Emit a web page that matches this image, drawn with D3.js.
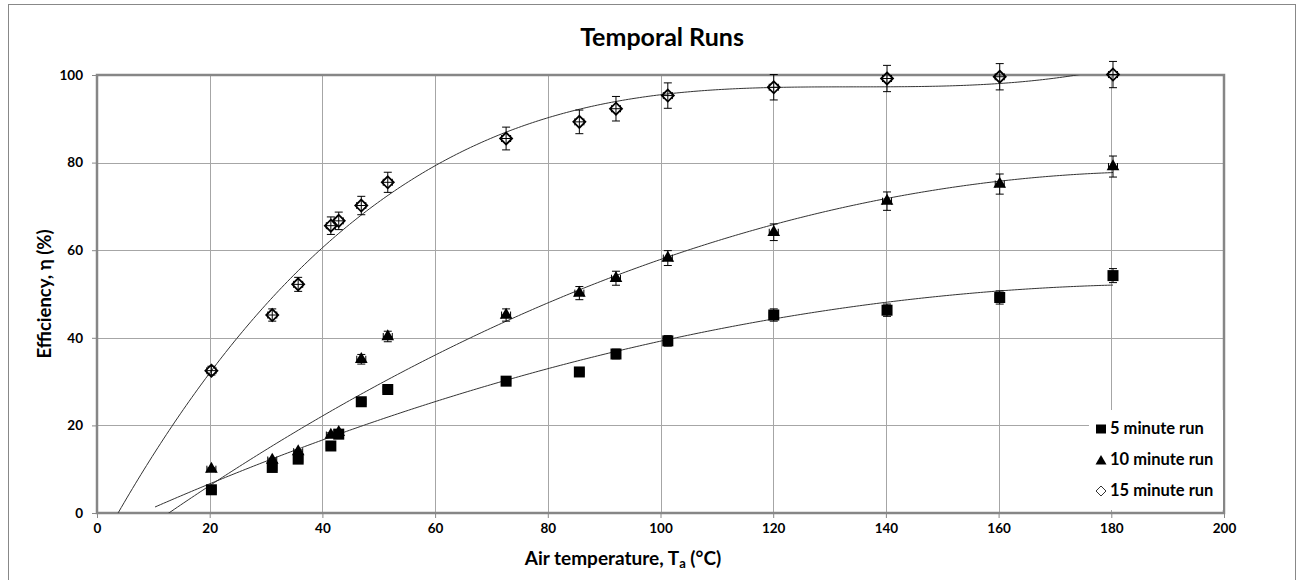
<!DOCTYPE html>
<html>
<head>
<meta charset="utf-8">
<script src="https://cdn.jsdelivr.net/npm/d3@7"></script>
<style>
    body { margin: 0; background: #fff; }
    text { font-family: Lato, Carlito, Calibri, sans-serif; font-weight: bold; fill: #000; }
</style>
</head>
<body>
<div id="chart"></div>
<script>
// Temperatures (deg C) shared by the three runs
var temps = [20.3, 31.1, 35.7, 41.5, 42.9, 46.9, 51.6, 72.6, 85.6, 92.1, 101.3, 120.1, 140.2, 160.2, 180.3];

// Efficiency (%) per run
var run5 = [5.3, 10.4, 12.3, 15.3, 18.0, 25.4, 28.2, 30.1, 32.2, 36.3, 39.3, 45.2, 46.3, 49.2, 54.2];
var run10 = [10.0, 12.1, 14.0, 17.8, 18.4, 35.1, 40.3, 45.2, 50.2, 53.6, 58.2, 64.1, 71.2, 75.1, 79.1];
var run15 = [32.5, 45.2, 52.2, 65.6, 66.7, 70.2, 75.5, 85.5, 89.3, 92.3, 95.3, 97.2, 99.2, 99.6, 100.1];

// Error bars
var err5 = [0.2, 0.3, 0.4, 0.5, 0.5, 0.8, 0.8, 0.9, 1.0, 1.1, 1.2, 1.4, 1.4, 1.5, 1.6];
var err10 = [0.3, 0.4, 0.4, 0.5, 0.6, 1.1, 1.2, 1.4, 1.5, 1.6, 1.7, 1.9, 2.1, 2.3, 2.4];
var err15 = [1.0, 1.4, 1.6, 2.0, 2.0, 2.1, 2.3, 2.6, 2.7, 2.8, 2.9, 2.9, 3.0, 3.0, 3.0];
var tempErr = 0.8;

var seriesNames = ['5 minute run', '10 minute run', '15 minute run'];
var xTicks = [0, 20, 40, 60, 80, 100, 120, 140, 160, 180, 200];
var yTicks = [0, 20, 40, 60, 80, 100];

// Polynomial trendline settings (order, backward forecast)
var trendOrder = [2, 2, 3];
var trendBack = [10, 10, 20];

var width = 1301,
    height = 580,
    margin = { left: 97, top: 75, right: 77, bottom: 67 };

var plotW = width - margin.left - margin.right,
    plotH = height - margin.top - margin.bottom;

var x = d3.scaleLinear().domain([0, 200]).range([0, plotW]);
var y = d3.scaleLinear().domain([0, 100]).range([plotH, 0]);

var series = [run5, run10, run15].map(function (vals, i) {
    return {
        name: seriesNames[i],
        shape: ['square', 'triangle', 'diamond'][i],
        points: vals.map(function (v, j) {
            return { x: temps[j], y: v, e: [err5, err10, err15][i][j] };
        }),
        order: trendOrder[i],
        back: trendBack[i]
    };
});

// least squares polynomial fit, x scaled for conditioning
function polyfit(xs, ys, order) {
    var n = order + 1, A = [], b = [], i, j, k;
    for (i = 0; i < n; i++) {
        A[i] = [];
        for (j = 0; j < n; j++) {
            A[i][j] = d3.sum(xs, function (v) { return Math.pow(v / 100, i + j); });
        }
        b[i] = d3.sum(xs, function (v, m) { return ys[m] * Math.pow(v / 100, i); });
    }
    for (i = 0; i < n; i++) {
        var p = i;
        for (k = i + 1; k < n; k++) if (Math.abs(A[k][i]) > Math.abs(A[p][i])) p = k;
        var t = A[i]; A[i] = A[p]; A[p] = t;
        t = b[i]; b[i] = b[p]; b[p] = t;
        for (k = i + 1; k < n; k++) {
            var f = A[k][i] / A[i][i];
            for (j = i; j < n; j++) A[k][j] -= f * A[i][j];
            b[k] -= f * b[i];
        }
    }
    var c = [];
    for (i = n - 1; i >= 0; i--) {
        var s = b[i];
        for (j = i + 1; j < n; j++) s -= A[i][j] * c[j];
        c[i] = s / A[i][i];
    }
    return function (v) {
        return d3.sum(c, function (cc, m) { return cc * Math.pow(v / 100, m); });
    };
}

var svg = d3.select('#chart').append('svg')
    .attr('width', width)
    .attr('height', height);

// outer chart border
svg.append('rect')
    .attr('x', 8.5).attr('y', 4.5)
    .attr('width', 1287).attr('height', 620)
    .attr('fill', 'none')
    .attr('stroke', '#888')
    .attr('stroke-width', 1);

svg.append('text')
    .attr('x', 662)
    .attr('y', 46)
    .attr('text-anchor', 'middle')
    .style('font-size', '25px')
    .text('Temporal Runs');

var g = svg.append('g')
    .attr('transform', 'translate(' + margin.left + ',' + margin.top + ')');

svg.append('defs').append('clipPath')
    .attr('id', 'plotClip')
    .append('rect')
    .attr('width', plotW)
    .attr('height', plotH);

// gridlines
g.append('g').selectAll('line').data(xTicks.slice(1, -1))
    .enter().append('line')
    .attr('x1', function (d) { return Math.round(x(d)) + 0.5; })
    .attr('x2', function (d) { return Math.round(x(d)) + 0.5; })
    .attr('y1', 0).attr('y2', plotH)
    .attr('stroke', '#a6a6a6');

g.append('g').selectAll('line').data(yTicks.slice(1, -1))
    .enter().append('line')
    .attr('y1', function (d) { return Math.round(y(d)) + 0.5; })
    .attr('y2', function (d) { return Math.round(y(d)) + 0.5; })
    .attr('x1', 0).attr('x2', plotW)
    .attr('stroke', '#a6a6a6');

// axes
var xAxis = g.append('g')
    .attr('transform', 'translate(0,' + plotH + ')')
    .call(d3.axisBottom(x).tickValues(xTicks).tickSize(5).tickPadding(5));

var yAxis = g.append('g')
    .call(d3.axisLeft(y).tickValues(yTicks).tickSize(5).tickPadding(9));

[xAxis, yAxis].forEach(function (ax) {
    ax.select('.domain').remove();
    ax.selectAll('line').attr('stroke', '#888');
    ax.selectAll('text')
        .style('font-family', 'Lato, sans-serif')
        .style('font-weight', 'bold')
        .style('font-size', '13.5px')
        .attr('fill', '#000');
});

// plot frame
g.append('rect')
    .attr('width', plotW)
    .attr('height', plotH)
    .attr('fill', 'none')
    .attr('stroke', '#868686')
    .attr('stroke-width', 2.5);

// trendlines
var line = d3.line()
    .x(function (d) { return x(d[0]); })
    .y(function (d) { return y(d[1]); });

series.forEach(function (s) {
    var fit = polyfit(temps, s.points.map(function (p) { return p.y; }), s.order);
    var x0 = temps[0] - s.back, x1 = temps[temps.length - 1];
    var pts = d3.range(x0, x1, 0.5).concat([x1]).map(function (v) { return [v, fit(v)]; });
    g.append('path')
        .attr('d', line(pts))
        .attr('clip-path', 'url(#plotClip)')
        .attr('fill', 'none')
        .attr('stroke', '#333')
        .attr('stroke-width', 1);
});

// markers and error bars
var sym = {
    square: d3.symbol().type(d3.symbolSquare).size(121),
    triangle: d3.symbol().type(d3.symbolTriangle).size(70)
};

series.forEach(function (s) {
    var sg = g.append('g');
    var pg = sg.selectAll('g').data(s.points).enter().append('g')
        .attr('transform', function (d) { return 'translate(' + x(d.x) + ',' + y(d.y) + ')'; });

    var bars = pg.append('g').attr('stroke', '#000').attr('stroke-width', 1);
    bars.append('path').attr('d', function (d) {
        var up = y(d.y + d.e) - y(d.y), dn = y(d.y - d.e) - y(d.y);
        var l = x(d.x - tempErr) - x(d.x), r = x(d.x + tempErr) - x(d.x);
        return 'M0,' + up + 'V' + dn +
            'M-4,' + up + 'H4M-4,' + dn + 'H4' +
            'M' + l + ',0H' + r +
            'M' + l + ',-3.5V3.5M' + r + ',-3.5V3.5';
    });

    if (s.shape === 'diamond') {
        pg.append('path')
            .attr('d', 'M0,-6L6,0L0,6L-6,0Z')
            .attr('fill', 'none')
            .attr('stroke', '#000')
            .attr('stroke-width', 1.8);
    } else {
        pg.append('path')
            .attr('d', sym[s.shape]())
            .attr('fill', '#000');
    }
});

// legend
var legend = svg.append('g')
    .attr('transform', 'translate(1089,410)');

legend.append('rect')
    .attr('width', 134)
    .attr('height', 100)
    .attr('fill', '#fff');

var items = legend.selectAll('.item').data(series).enter().append('g')
    .attr('class', 'item')
    .attr('transform', function (d, i) { return 'translate(0,' + (19 + i * 31) + ')'; });

items.append('path')
    .attr('transform', 'translate(12,0)')
    .attr('d', function (d) {
        if (d.shape === 'square') return 'M-5,-4.5H5V4.5H-5Z';
        if (d.shape === 'triangle') return 'M0,-5L5.5,4.5H-5.5Z';
        return 'M0,-5L5,0L0,5L-5,0Z';
    })
    .attr('fill', function (d) { return d.shape === 'diamond' ? '#fff' : '#000'; })
    .attr('stroke', function (d) { return d.shape === 'diamond' ? '#000' : 'none'; })
    .attr('stroke-width', 0.8);

items.append('text')
    .attr('x', 21)
    .attr('y', 5)
    .style('font-size', '16.5px')
    .text(function (d) { return d.name; });

// axis titles
var xt = svg.append('text')
    .attr('x', 623)
    .attr('y', 565)
    .attr('text-anchor', 'middle')
    .style('font-size', '19px');
xt.append('tspan').text('Air temperature, T');
xt.append('tspan').attr('dy', 3).style('font-size', '13px').text('a');
xt.append('tspan').attr('dy', -3).text(' (°C)');

svg.append('text')
    .attr('transform', 'translate(51,294) rotate(-90)')
    .attr('text-anchor', 'middle')
    .style('font-size', '18.5px')
    .text('Efficiency, η (%)');
</script>
</body>
</html>
